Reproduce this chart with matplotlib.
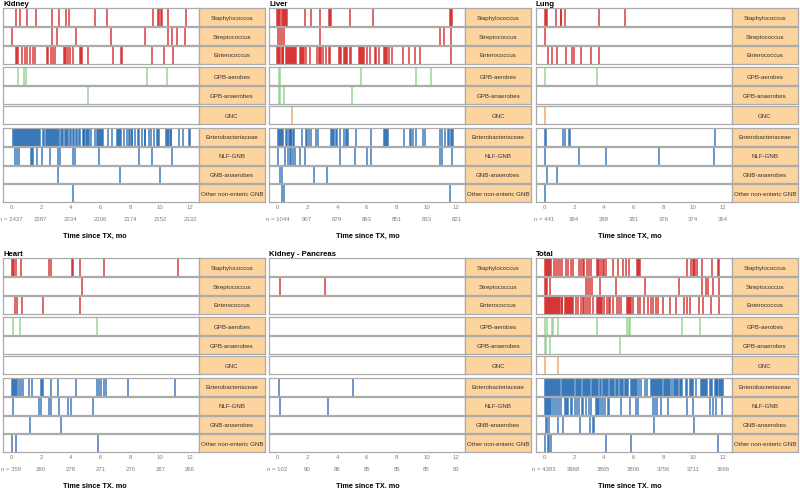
import matplotlib
matplotlib.use("Agg")
import matplotlib.pyplot as plt
from matplotlib.transforms import blended_transform_factory

plt.rcParams['font.family'] = ['Liberation Sans', 'DejaVu Sans']

# ---------------- data ----------------
categories = ["Staphylococcus", "Streptococcus", "Enterococcus", "GPB-aerobes",
              "GPB-anaerobes", "GNC", "Enterobacteriaceae", "NLF-GNB",
              "GNB-anaerobes", "Other non-enteric GNB"]
tick_values = [0, 2, 4, 6, 8, 10, 12]

kidney = {
    "Staphylococcus": [0.34, 0.60, 1.05, 1.68, 2.77, 3.24, 3.69, 3.87, 5.65, 6.41, 9.52, 9.83,
                       9.92, 10.02, 10.13, 10.54, 11.70],
    "Streptococcus": [0.05, 2.77, 3.10, 4.36, 6.70, 8.95, 10.52, 10.78, 11.15, 11.67],
    "Enterococcus": [0.31, 0.38, 0.49, 0.72, 0.94, 1.05, 1.27, 1.50, 1.61, 2.39, 2.50, 2.66,
                     2.84, 2.95, 3.57, 3.64, 3.71, 3.80, 3.95, 4.14, 4.62, 4.69, 4.76, 5.18,
                     6.86, 7.35, 7.46, 9.43, 10.27, 10.88],
    "GPB-aerobes": [0.45, 0.89, 0.98, 9.14, 10.43],
    "GPB-anaerobes": [5.18],
    "GNC": [],
    "Enterobacteriaceae": [0.11, 0.18, 0.25, 0.32, 0.39, 0.46, 0.53, 0.60, 0.67, 0.74, 0.81,
                           0.87, 0.92, 0.99, 1.06, 1.13, 1.20, 1.27, 1.34, 1.41, 1.48, 1.55,
                           1.62, 1.69, 1.76, 1.83, 1.90, 1.97, 2.17, 2.24, 2.31, 2.38, 2.45,
                           2.52, 2.59, 2.66, 2.73, 2.80, 2.87, 2.97, 3.04, 3.11, 3.17, 3.24,
                           3.33, 3.42, 3.50, 3.60, 3.69, 3.76, 3.83, 3.97, 4.05, 4.15, 4.21,
                           4.38, 4.44, 4.56, 4.62, 4.81, 4.88, 4.92, 5.00, 5.06, 5.16, 5.23,
                           5.37, 5.61, 5.75, 5.82, 5.89, 5.96, 6.03, 6.10, 6.14, 6.49, 6.77,
                           7.10, 7.17, 7.21, 7.33, 7.40, 7.55, 7.74, 7.91, 7.96, 8.09, 8.14,
                           8.34, 8.53, 8.58, 8.79, 8.96, 9.01, 9.24, 9.39, 9.56, 9.79, 9.86,
                           9.92, 10.41, 10.48, 10.55, 10.62, 10.69, 10.75, 11.25, 11.54,
                           11.93, 11.98],
    "NLF-GNB": [0.27, 0.38, 0.54, 1.32, 1.41, 1.50, 1.72, 2.06, 2.61, 3.17, 3.28, 4.13, 4.27,
                5.92, 8.60, 9.43, 10.77],
    "GNB-anaerobes": [3.13, 7.31, 10.01],
    "Other non-enteric GNB": [4.13],
}

liver = {
    "Staphylococcus": [0.00, 0.07, 0.14, 0.21, 0.28, 0.35, 0.42, 0.48, 0.56, 0.65, 1.88, 2.28,
                       2.86, 3.46, 3.53, 3.60, 4.89, 6.41, 11.56, 11.63, 11.68],
    "Streptococcus": [0.04, 0.16, 0.34, 0.42, 2.86, 10.90, 11.17, 11.66],
    "Enterococcus": [0.00, 0.07, 0.14, 0.21, 0.28, 0.35, 0.41, 0.56, 0.63, 0.70, 0.77, 0.84,
                     0.91, 0.98, 1.05, 1.12, 1.16, 1.23, 1.50, 1.57, 1.64, 1.71, 1.78, 1.90,
                     2.17, 2.69, 2.76, 2.83, 2.95, 3.06, 3.28, 3.46, 3.55, 4.12, 4.19, 4.24,
                     4.46, 4.53, 4.60, 4.67, 4.85, 4.96, 5.46, 5.53, 5.60, 5.67, 5.74, 5.78,
                     6.01, 6.23, 6.53, 6.64, 6.82, 7.16, 7.23, 7.30, 7.34, 7.49, 7.69, 8.42,
                     8.83, 9.21, 9.54, 11.62],
    "GPB-aerobes": [0.11, 0.20, 5.59, 9.27, 10.32],
    "GPB-anaerobes": [0.09, 0.16, 0.45, 5.03],
    "GNC": [0.96],
    "Enterobacteriaceae": [0.05, 0.12, 0.19, 0.26, 0.33, 0.37, 0.61, 0.68, 0.75, 0.82, 0.89,
                           0.93, 1.05, 1.12, 1.68, 1.95, 2.02, 2.09, 2.28, 2.61, 2.73, 3.59,
                           3.66, 3.73, 3.77, 3.91, 4.02, 4.18, 4.50, 4.57, 4.64, 4.71, 5.25,
                           6.30, 7.16, 7.23, 7.30, 7.37, 7.41, 8.49, 8.87, 8.98, 9.09, 9.27,
                           9.77, 9.92, 10.88, 11.04, 11.22, 11.47, 11.54, 11.61, 11.68, 11.75],
    "NLF-GNB": [0.04, 0.49, 0.72, 0.83, 0.94, 1.05, 1.16, 1.54, 1.88, 4.18, 5.18, 6.01, 6.30,
                10.93, 11.06, 11.69],
    "GNB-anaerobes": [0.20, 0.29, 2.44, 3.33],
    "Other non-enteric GNB": [0.34, 0.45, 11.60],
}

lung = {
    "Staphylococcus": [0.04, 0.11, 0.20, 0.78, 1.12, 1.16, 1.43, 3.69, 5.45],
    "Streptococcus": [0.04],
    "Enterococcus": [0.27, 0.54, 0.87, 1.45, 1.84, 2.01, 2.50, 3.13, 3.69],
    "GPB-aerobes": [0.04, 3.55],
    "GPB-anaerobes": [],
    "GNC": [0.04],
    "Enterobacteriaceae": [0.04, 0.11, 1.27, 1.39, 1.68, 1.72, 11.44],
    "NLF-GNB": [0.04, 2.32, 4.18, 7.69, 11.40],
    "GNB-anaerobes": [0.20, 0.87],
    "Other non-enteric GNB": [0.04],
}

heart = {
    "Staphylococcus": [0.04, 0.16, 0.22, 0.31, 0.67, 2.55, 2.66, 4.07, 4.13, 4.63, 6.26, 11.17],
    "Streptococcus": [4.76],
    "Enterococcus": [0.27, 0.38, 0.76, 2.17, 4.63],
    "GPB-aerobes": [0.16, 0.60, 5.77],
    "GPB-anaerobes": [],
    "GNC": [],
    "Enterobacteriaceae": [0.09, 0.16, 0.22, 0.29, 0.36, 0.42, 0.54, 0.65, 0.83, 1.21, 1.43,
                           1.99, 2.08, 2.15, 2.70, 3.17, 4.36, 5.77, 5.90, 6.06, 6.21, 6.37,
                           7.82, 10.99],
    "NLF-GNB": [0.11, 1.90, 1.99, 2.57, 2.66, 3.22, 3.84, 4.02, 5.52],
    "GNB-anaerobes": [1.30, 3.33],
    "Other non-enteric GNB": [0.04, 0.34, 5.81],
}

kidney_pancreas = {
    "Staphylococcus": [],
    "Streptococcus": [0.20, 3.17],
    "Enterococcus": [],
    "GPB-aerobes": [],
    "GPB-anaerobes": [],
    "GNC": [],
    "Enterobacteriaceae": [0.09, 5.05],
    "NLF-GNB": [0.20, 3.42],
    "GNB-anaerobes": [],
    "Other non-enteric GNB": [],
}

total = {
    "Staphylococcus": [0.05, 0.12, 0.19, 0.26, 0.33, 0.40, 0.47, 0.66, 0.77, 0.93, 1.04, 1.22,
                       1.45, 1.63, 1.79, 1.94, 2.35, 2.46, 2.58, 2.69, 2.85, 2.98, 3.14, 3.55,
                       3.62, 3.69, 3.82, 3.93, 4.05, 4.16, 4.61, 4.95, 5.29, 5.51, 5.67, 6.24,
                       6.31, 6.38, 6.45, 9.58, 9.88, 9.97, 10.06, 10.15, 10.26, 10.60, 11.23,
                       11.67, 11.74],
    "Streptococcus": [0.05, 0.14, 0.20, 0.43, 2.80, 2.94, 3.10, 3.21, 3.75, 4.84, 6.80, 9.06,
                      10.60, 10.89, 11.01, 11.32, 11.73],
    "Enterococcus": [0.05, 0.12, 0.19, 0.26, 0.33, 0.40, 0.47, 0.54, 0.61, 0.68, 0.75, 0.82,
                     0.89, 0.96, 1.03, 1.10, 1.17, 1.22, 1.40, 1.47, 1.54, 1.61, 1.68, 1.75,
                     1.82, 1.85, 1.97, 2.12, 2.28, 2.46, 2.58, 2.69, 2.80, 2.92, 3.07, 3.25,
                     3.56, 3.63, 3.70, 3.77, 3.84, 3.88, 4.05, 4.20, 4.34, 4.45, 4.61, 4.88,
                     5.02, 5.18, 5.55, 5.62, 5.69, 5.73, 5.85, 5.97, 6.31, 6.42, 6.69, 6.98,
                     7.14, 7.32, 7.48, 7.66, 7.95, 8.45, 8.86, 9.40, 9.58, 9.76, 10.37, 10.67,
                     11.21, 11.73],
    "GPB-aerobes": [0.09, 0.20, 0.50, 0.59, 0.95, 3.55, 5.54, 5.67, 5.79, 9.24, 10.44],
    "GPB-anaerobes": [0.05, 0.14, 0.43, 5.11],
    "GNC": [0.05, 0.95],
    "Enterobacteriaceae": [0.05, 0.12, 0.19, 0.26, 0.33, 0.40, 0.47, 0.54, 0.61, 0.68, 0.75,
                           0.82, 0.89, 0.96, 1.03, 1.10, 1.17, 1.24, 1.31, 1.38, 1.45, 1.52,
                           1.59, 1.66, 1.73, 1.80, 1.87, 1.94, 2.00, 2.13, 2.20, 2.27, 2.34,
                           2.41, 2.45, 2.59, 2.66, 2.73, 2.80, 2.87, 2.94, 3.01, 3.08, 3.22,
                           3.29, 3.36, 3.43, 3.50, 3.57, 3.64, 3.78, 3.85, 3.92, 3.99, 4.06,
                           4.13, 4.20, 4.27, 4.42, 4.49, 4.56, 4.63, 4.67, 4.80, 4.87, 4.94,
                           5.09, 5.16, 5.23, 5.29, 5.43, 5.50, 5.57, 5.62, 5.82, 5.89, 5.96,
                           6.03, 6.10, 6.17, 6.22, 6.35, 6.49, 6.76, 6.92, 7.15, 7.22, 7.29,
                           7.36, 7.43, 7.50, 7.54, 7.63, 7.70, 7.77, 7.81, 7.94, 8.01, 8.08,
                           8.15, 8.22, 8.29, 8.36, 8.43, 8.56, 8.73, 8.80, 8.87, 8.94, 9.00,
                           9.14, 9.21, 9.28, 9.49, 9.56, 9.80, 9.87, 9.94, 10.01, 10.19, 10.50,
                           10.57, 10.64, 10.71, 10.78, 10.85, 10.92, 11.13, 11.20, 11.27,
                           11.44, 11.51, 11.58, 11.61, 11.74, 11.81, 11.88, 11.95, 12.02],
    "NLF-GNB": [0.05, 0.12, 0.19, 0.26, 0.33, 0.40, 0.47, 0.59, 0.72, 0.88, 0.99, 1.11, 1.41,
                1.48, 1.55, 1.62, 1.79, 1.90, 2.06, 2.19, 2.31, 2.54, 2.62, 2.80, 2.98, 3.14,
                3.49, 3.56, 3.63, 3.70, 3.82, 3.93, 4.11, 4.27, 4.38, 5.18, 5.74, 6.15, 6.31,
                7.32, 7.44, 7.55, 7.84, 8.34, 9.58, 9.99, 11.10, 11.32, 11.50, 11.95],
    "GNB-anaerobes": [0.14, 0.23, 0.32, 0.95, 1.27, 2.42, 3.10, 3.25, 3.37, 7.39, 10.03],
    "Other non-enteric GNB": [0.05, 0.27, 0.36, 0.45, 4.16, 5.85, 11.66],
}

n_kidney = [2437, 2287, 2234, 2206, 2174, 2152, 2132]
n_liver = [1044, 907, 879, 863, 851, 833, 821]
n_lung = [441, 394, 388, 381, 376, 374, 364]
n_heart = [359, 290, 278, 271, 270, 267, 266]
n_kidney_pancreas = [102, 90, 86, 85, 85, 85, 83]
n_total = [4383, 3968, 3865, 3806, 3756, 3711, 3666]

panels = [("Kidney", kidney, n_kidney), ("Liver", liver, n_liver), ("Lung", lung, n_lung),
          ("Heart", heart, n_heart), ("Kidney - Pancreas", kidney_pancreas, n_kidney_pancreas),
          ("Total", total, n_total)]

# ---------------- style / layout ----------------
RED, GREEN, ORANGE, BLUE = '#d01c1c', '#8fd18a', '#e8a060', '#1f67b0'
row_colors = [RED, RED, RED, GREEN, GREEN, ORANGE, BLUE, BLUE, BLUE, BLUE]
row_alpha = [0.85, 0.85, 0.85, 0.9, 0.9, 0.9, 0.85, 0.85, 0.85, 0.85]
BORDER = '#ababab'
STRIP = '#fdd49e'
GREY_TXT = '#808080'

W, H = 800, 489
fig = plt.figure(figsize=(8, 4.89), dpi=100)
fig.patch.set_facecolor('white')


def rect(x, y, w, h):
    return [x / W, 1 - (y + h) / H, w / W, h / H]


col_x = [3, 269.3, 536]
panel_y = [0, 250]
row_tops = [9.3, 28.3, 47, 68.3, 87.3, 107.3, 129, 148, 166.7, 185.3]
row_h = 17.5
plot_w = 196
lab_w = 66
xlab_frac = [0.47, 0.505, 0.48]

for i, (title, events, nrisk) in enumerate(panels):
    cx = col_x[i % 3]
    oy = panel_y[i // 3]
    for r, cat in enumerate(categories):
        ax = fig.add_axes(rect(cx, oy + row_tops[r], plot_w, row_h))
        ax.set_xlim(-0.54, 12.6)
        ax.set_ylim(0, 1)
        ev = events.get(cat, [])
        if len(ev):
            ax.vlines(ev, 0, 1, colors=row_colors[r], lw=1.1, alpha=row_alpha[r])
        for s in ax.spines.values():
            s.set_color(BORDER)
            s.set_linewidth(0.9)
        ax.set_yticks([])
        if r == len(categories) - 1:
            ax.set_xticks(tick_values)
            ax.set_xticklabels([str(t) for t in tick_values])
            ax.tick_params(axis='x', length=0, pad=1.6, labelsize=4.3, labelcolor=GREY_TXT)
            tr = blended_transform_factory(ax.transData, ax.transAxes)
            for j, (t, n) in enumerate(zip(tick_values, nrisk)):
                lbl = f"n = {n}" if j == 0 else str(n)
                ax.text(t, -0.95, lbl, transform=tr, ha='center', va='center',
                        fontsize=4.3, color=GREY_TXT)
            ax.text(xlab_frac[i % 3], -1.9, "Time since TX, mo", transform=ax.transAxes,
                    ha='center', va='center', fontsize=5.2, fontweight='bold', color='black')
        else:
            ax.set_xticks([])
        if r == 0:
            ax.text(0.0, 1.3, title, transform=ax.transAxes, ha='left', va='center',
                    fontsize=5.6, fontweight='bold', color='black')
        lab = fig.add_axes(rect(cx + plot_w, oy + row_tops[r], lab_w, row_h))
        lab.set_facecolor(STRIP)
        lab.set_xticks([])
        lab.set_yticks([])
        for s in lab.spines.values():
            s.set_color(BORDER)
            s.set_linewidth(0.9)
        lab.text(0.5, 0.5, cat, transform=lab.transAxes, ha='center', va='center',
                 fontsize=4.4, color='#333333')

fig.savefig("out.png", dpi=100, facecolor='white')
